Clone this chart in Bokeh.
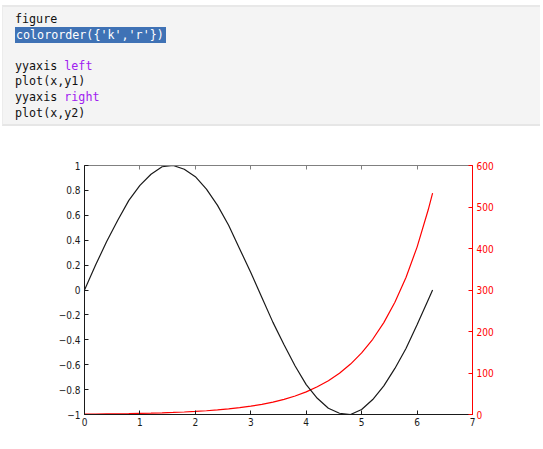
from bokeh.plotting import figure
from bokeh.models import (Div, Range1d, LinearAxis, FixedTicker, CustomJSTickFormatter)
from bokeh.layouts import column
from bokeh.embed import file_html
from bokeh.resources import INLINE

# ---- data ----
x = [0, 0.2, 0.4, 0.6, 0.8, 1.0, 1.2, 1.4, 1.6, 1.8, 2.0, 2.2, 2.4, 2.6, 2.8, 3.0,
     3.2, 3.4, 3.6, 3.8, 4.0, 4.2, 4.4, 4.6, 4.8, 5.0, 5.2, 5.4, 5.6, 5.8, 6.0, 6.2, 6.28]
y1 = [0, 0.2, 0.39, 0.56, 0.72, 0.84, 0.93, 0.99, 1.0, 0.97, 0.91, 0.81, 0.68, 0.52, 0.33, 0.14,
      -0.06, -0.26, -0.44, -0.61, -0.76, -0.87, -0.95, -0.99, -1.0, -0.96, -0.88, -0.77, -0.63,
      -0.47, -0.28, -0.08, 0.0]
y2 = [1, 1.2, 1.5, 1.8, 2.2, 2.7, 3.3, 4.1, 5.0, 6.0, 7.4, 9.0, 11, 13.5, 16.4, 20,
      24.5, 30, 36.6, 44.7, 54.6, 66.7, 81.5, 99.5, 121.5, 148.4, 181.3, 221.4, 270.4,
      330.3, 403.4, 492.7, 533.5]
x_ticks = [0, 1, 2, 3, 4, 5, 6, 7]
left_ticks = [-1, -0.8, -0.6, -0.4, -0.2, 0, 0.2, 0.4, 0.6, 0.8, 1]
right_ticks = [0, 100, 200, 300, 400, 500, 600]
code_lines = [
    [("figure", None)],
    [("colororder({'k','r'})", "hl")],
    [],
    [("yyaxis ", None), ("left", "kw")],
    [("plot(x,y1)", None)],
    [("yyaxis ", None), ("right", "kw")],
    [("plot(x,y2)", None)],
]

# ---- code box ----
def span(t, kind):
    if kind == "hl":
        return f'<span style="background:#3f72b5;color:#ffffff;padding:1px 2px 1px 1px;">{t}</span>'
    if kind == "kw":
        return f'<span style="color:#a020f0;">{t}</span>'
    return f'<span>{t}</span>'

rows = "".join(
    f'<div style="height:15.6px;line-height:15.6px;white-space:pre;">{"".join(span(t, k) for t, k in ln) or "&nbsp;"}</div>'
    for ln in code_lines)
code_html = (
    '<div style="margin-left:-3px;width:538px;height:121px;box-sizing:border-box;background:#f4f4f4;'
    'border-top:2px solid #e8e8e8;border-bottom:2px solid #e6e6e6;border-left:1px solid #ececec;'
    'padding:5px 0 0 12px;font-family:\'DejaVu Sans Mono\',monospace;font-size:11.7px;color:#111;">'
    + rows + '</div>')
div = Div(text=code_html, width=527, height=121)

# ---- plot ----
p = figure(width=527, height=312, output_backend="svg", toolbar_location=None,
           x_range=Range1d(0, 7), y_range=Range1d(-1, 1),
           min_border_left=84, min_border_right=55, min_border_top=34, min_border_bottom=29)
p.extra_y_ranges = {"right": Range1d(0, 600)}
p.grid.visible = False
p.outline_line_color = "#808080"
p.background_fill_color = "white"
p.border_fill_color = "white"

FONT = "DejaVu Sans Condensed"
fmt = CustomJSTickFormatter(code="""
const a = Math.abs(tick) < 1e-9 ? 0 : tick;
const s = String(Math.round(Math.abs(a)*10)/10);
return (a < 0 ? '\u2212' : '') + s;
""")

def style(ax, color, labels=True):
    ax.axis_line_color = color
    ax.major_tick_line_color = color
    ax.major_tick_in = 4
    ax.major_tick_out = 0
    ax.minor_tick_line_color = None
    ax.major_label_text_font = FONT
    ax.major_label_text_font_size = "10px"
    ax.major_label_text_color = color if labels else None
    ax.major_label_standoff = 4

xa = p.xaxis[0]
xa.ticker = FixedTicker(ticks=x_ticks)
style(xa, "#1a1a1a")
xa.major_label_standoff = 3

ya = p.yaxis[0]
ya.ticker = FixedTicker(ticks=left_ticks)
ya.formatter = fmt
style(ya, "#1a1a1a")

ta = LinearAxis(ticker=FixedTicker(ticks=x_ticks))
style(ta, "#808080", labels=False)
ta.major_label_text_font_size = "0px"
p.add_layout(ta, "above")

ra = LinearAxis(y_range_name="right", ticker=FixedTicker(ticks=right_ticks))
style(ra, "#ff0000")
p.add_layout(ra, "right")

p.line(x, y2, y_range_name="right", line_color="#ff0000", line_width=1.2)
p.line(x, y1, line_color="#1a1a1a", line_width=1.2)

layout = column(div, p, spacing=0)
open("out.html", "w").write(file_html(layout, INLINE))
